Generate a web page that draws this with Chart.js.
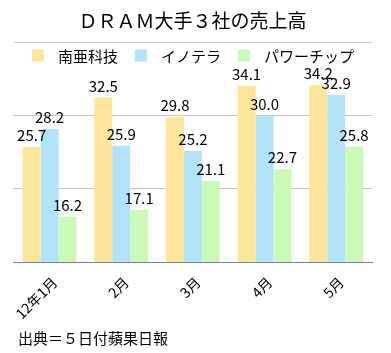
<!DOCTYPE html>
<html>
<head>
<meta charset="utf-8">
<script src="https://cdn.jsdelivr.net/npm/chart.js@4"></script>
<style>
  body { margin: 0; background: #fff; }
</style>
</head>
<body>
<canvas id="chart" width="391" height="353"></canvas>
<script>
const months = ['12年1月', '2月', '3月', '4月', '5月'];
const companies = ['南亜科技', 'イノテラ', 'パワーチップ'];
const nanya = [25.7, 32.5, 29.8, 34.1, 34.2];
const inotera = [28.2, 25.9, 25.2, 30.0, 32.9];
const powerchip = [16.2, 17.1, 21.1, 22.7, 25.8];
const colors = ['#fde69c', '#b3e2fb', '#caf9b8'];
const sourceNote = '出典＝５日付蘋果日報';

const FONT = '"Noto Sans CJK JP", "Noto Sans", sans-serif';

// value labels above each bar
const valueLabels = {
  id: 'valueLabels',
  afterDatasetsDraw(chart) {
    const ctx = chart.ctx;
    ctx.save();
    ctx.font = '15px ' + FONT;
    ctx.fillStyle = '#000';
    ctx.textAlign = 'center';
    ctx.textBaseline = 'alphabetic';
    chart.data.datasets.forEach((ds, i) => {
      chart.getDatasetMeta(i).data.forEach((bar, j) => {
        ctx.fillText(ds.data[j].toFixed(1), bar.x, bar.y - 6);
      });
    });
    ctx.restore();
  }
};

// legend drawn over the top of the plot area, plus the source note
const topLegend = {
  id: 'topLegend',
  afterDraw(chart) {
    const ctx = chart.ctx;
    const area = chart.chartArea;
    ctx.save();
    ctx.font = '15px ' + FONT;
    ctx.textBaseline = 'middle';
    const box = 12, gap = 14, itemGap = 17;
    const widths = chart.data.datasets.map(ds => ctx.measureText(ds.label).width);
    let total = widths.reduce((a, b) => a + b, 0) + chart.data.datasets.length * (box + gap) + itemGap * (widths.length - 1);
    let x = (area.left + area.right) / 2 - total / 2;
    const y = 56;
    chart.data.datasets.forEach((ds, i) => {
      ctx.fillStyle = ds.backgroundColor;
      ctx.fillRect(x, y - 6.5, box, box);
      ctx.fillStyle = '#000';
      ctx.fillText(ds.label, x + box + gap, y);
      x += box + gap + widths[i] + itemGap;
    });
    ctx.textAlign = 'left';
    ctx.fillText(sourceNote, 18, 338);
    ctx.restore();
  }
};

new Chart(document.getElementById('chart'), {
  type: 'bar',
  data: {
    labels: months,
    datasets: [
      { label: companies[0], data: nanya, backgroundColor: colors[0] },
      { label: companies[1], data: inotera, backgroundColor: colors[1] },
      { label: companies[2], data: powerchip, backgroundColor: colors[2] }
    ]
  },
  options: {
    responsive: false,
    animation: false,
    devicePixelRatio: 1,
    layout: { padding: { left: 13, right: 19, top: 0, bottom: 0 } },
    datasets: {
      bar: { categoryPercentage: 0.75, barPercentage: 1 }
    },
    scales: {
      x: {
        grid: { display: false, drawTicks: false },
        border: { display: true, color: '#72809a', width: 1 },
        ticks: {
          font: { family: FONT, size: 14 },
          color: '#000',
          minRotation: 45,
          maxRotation: 45,
          padding: 12,
          labelOffset: 5
        },
        afterFit(scale) { scale.height = 91; }
      },
      y: {
        min: 10,
        max: 40,
        ticks: { display: false, stepSize: 10 },
        grid: { color: '#c4c4c4', drawTicks: false },
        border: { display: false },
        afterFit(scale) { scale.width = 0; }
      }
    },
    plugins: {
      legend: { display: false },
      tooltip: { enabled: false },
      title: {
        display: true,
        text: 'ＤＲＡＭ大手３社の売上高',
        color: '#000',
        font: { family: FONT, size: 19, weight: 'normal' },
        padding: { top: 9, bottom: 11 }
      }
    }
  },
  plugins: [valueLabels, topLegend]
});
</script>
</body>
</html>
